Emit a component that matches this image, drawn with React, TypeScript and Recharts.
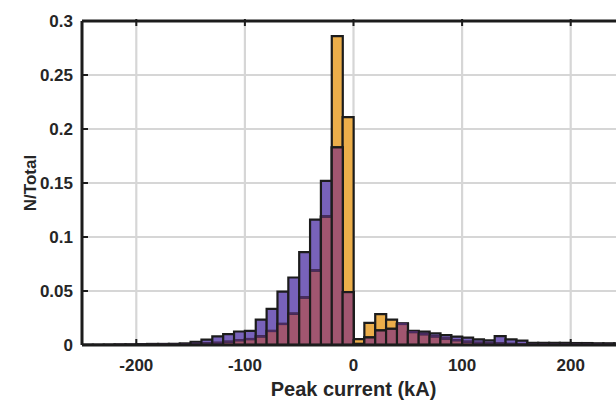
import React from 'react';
import { ComposedChart, Bar, XAxis, YAxis, CartesianGrid } from 'recharts';

// bin centres (kA), bin width 10
const binCenters = [
  -245, -235, -225, -215, -205, -195, -185, -175, -165, -155,
  -145, -135, -125, -115, -105, -95, -85, -75, -65, -55,
  -45, -35, -25, -15, -5, 5, 15, 25, 35, 45,
  55, 65, 75, 85, 95, 105, 115, 125, 135, 145,
  155, 165, 175, 185, 195, 205, 215, 225, 235, 245,
];

// orange histogram (N/Total)
const orangeShare = [
  0.0, 0.0, 0.0, 0.0001, 0.0001, 0.0002, 0.0002, 0.0003, 0.0003, 0.0005,
  0.001, 0.0015, 0.002, 0.003, 0.0045, 0.0055, 0.008, 0.013, 0.0195, 0.029,
  0.044, 0.069, 0.119, 0.286, 0.211, 0.0055, 0.0205, 0.0285, 0.0235, 0.0195,
  0.012, 0.01, 0.008, 0.006, 0.0045, 0.003, 0.002, 0.0015, 0.0015, 0.001,
  0.0008, 0.0005, 0.0005, 0.0005, 0.0005, 0.0005, 0.0004, 0.0004, 0.0003, 0.0003,
];

// purple histogram (N/Total)
const purpleShare = [
  0.0003, 0.0003, 0.0004, 0.0004, 0.0005, 0.0008, 0.001, 0.001, 0.0011, 0.0015,
  0.003, 0.005, 0.008, 0.01, 0.0125, 0.013, 0.0235, 0.0335, 0.0495, 0.0625,
  0.086, 0.116, 0.152, 0.183, 0.049, 0.001, 0.007, 0.0135, 0.015, 0.02,
  0.0132, 0.0123, 0.0108, 0.0092, 0.0077, 0.0068, 0.0053, 0.0042, 0.0083, 0.0053,
  0.004, 0.002, 0.002, 0.002, 0.002, 0.0018, 0.0018, 0.0016, 0.0016, 0.0015,
];

const xTicks = [-200, -100, 0, 100, 200];
const yTicks = [0, 0.05, 0.1, 0.15, 0.2, 0.25, 0.3];

const ORANGE = '#ECAE4A';
const PURPLE = '#7862BA';
const MAROON = '#A15670';
const DARK_LINE = '#4A2A60';
const INK = '#1c1c1c';
const TEXT = '#262626';
const FONT = '"Liberation Sans", Arial, sans-serif';

const rows = binCenters.map((c, i) => ({
  center: c,
  orange: orangeShare[i],
  purple: purpleShare[i],
  overlap: Math.min(orangeShare[i], purpleShare[i]),
}));

function OverlapShape(props: any) {
  const { x, y, width, height, payload } = props;
  if (width == null || height == null) return null;
  const purpleOnTop = payload.purple > payload.orange;
  return (
    <g>
      <rect x={x} y={y} width={width} height={height} fill={MAROON} stroke={INK} strokeWidth={2.2} />
      {purpleOnTop && (
        <line x1={x + 1} x2={x + width - 1} y1={y} y2={y} stroke={DARK_LINE} strokeWidth={2.2} />
      )}
    </g>
  );
}

// tick label plus a short tick mark pointing into the plot
const X_MARGIN = 14;
const Y_MARGIN = 9;

function XTick(props: any) {
  const { x, y, payload } = props;
  const axisY = y - X_MARGIN;
  return (
    <g>
      <line x1={x} x2={x} y1={axisY} y2={axisY - 6} stroke={INK} strokeWidth={2} />
      <text
        x={x}
        y={y}
        dy="0.71em"
        textAnchor="middle"
        fontFamily={FONT}
        fontSize={17}
        fontWeight={700}
        fill={TEXT}
      >
        {payload.value}
      </text>
    </g>
  );
}

function TopTick(props: any) {
  const { x, y } = props;
  return <line x1={x} x2={x} y1={y} y2={y + 7} stroke={INK} strokeWidth={2} />;
}

function YTick(props: any) {
  const { x, y, payload } = props;
  const axisX = x + Y_MARGIN;
  return (
    <g>
      <line x1={axisX} x2={axisX + 6} y1={y} y2={y} stroke={INK} strokeWidth={2} />
      <text
        x={x}
        y={y}
        dy="0.355em"
        textAnchor="end"
        fontFamily={FONT}
        fontSize={17}
        fontWeight={700}
        fill={TEXT}
      >
        {payload.value}
      </text>
    </g>
  );
}

export default function App() {
  return (
    <div
      style={{
        position: 'fixed',
        left: 0,
        top: 0,
        width: 616,
        height: 401,
        overflow: 'hidden',
        background: '#fff',
      }}
    >
      <ComposedChart
        width={640}
        height={401}
        data={rows}
        barCategoryGap={0}
        barGap={0}
        margin={{ top: 20, right: 15, bottom: 0, left: 0 }}
      >
        <CartesianGrid xAxisId="bo" stroke="#D6D6D6" strokeWidth={2.2} />
        <XAxis xAxisId="bm" dataKey="center" type="number" domain={[-250, 250]} allowDataOverflow height={0} hide />
        <XAxis
          xAxisId="bo"
          dataKey="center"
          type="number"
          domain={[-250, 250]}
          ticks={xTicks}
          allowDataOverflow
          height={56}
          tickSize={0}
          tickMargin={X_MARGIN}
          tickLine={false}
          tick={<XTick />}
          axisLine={{ stroke: INK, strokeWidth: 3 }}
          label={{
            value: 'Peak current (kA)',
            position: 'insideBottom',
            offset: 5,
            style: { fontFamily: FONT, fontSize: 20, fontWeight: 700, fill: TEXT },
          }}
        />
        <XAxis
          xAxisId="top"
          dataKey="center"
          orientation="top"
          type="number"
          domain={[-250, 250]}
          ticks={xTicks}
          allowDataOverflow
          height={1}
          tickSize={0}
          tickLine={false}
          tick={<TopTick />}
          axisLine={{ stroke: INK, strokeWidth: 3 }}
        />
        <YAxis
          type="number"
          domain={[0, 0.3]}
          ticks={yTicks}
          allowDataOverflow
          width={82}
          tickSize={0}
          tickMargin={Y_MARGIN}
          tickLine={false}
          tick={<YTick />}
          axisLine={{ stroke: INK, strokeWidth: 3 }}
          label={{
            value: 'N/Total',
            angle: -90,
            position: 'insideLeft',
            offset: 30,
            style: { fontFamily: FONT, fontSize: 17, fontWeight: 700, fill: TEXT, textAnchor: 'middle' },
          }}
        />
        <Bar xAxisId="bo" dataKey="orange" fill={ORANGE} stroke={INK} strokeWidth={2.2} isAnimationActive={false} />
        <Bar xAxisId="top" dataKey="purple" fill={PURPLE} stroke={INK} strokeWidth={2.2} isAnimationActive={false} />
        <Bar xAxisId="bm" dataKey="overlap" shape={OverlapShape} isAnimationActive={false} />
      </ComposedChart>
    </div>
  );
}
